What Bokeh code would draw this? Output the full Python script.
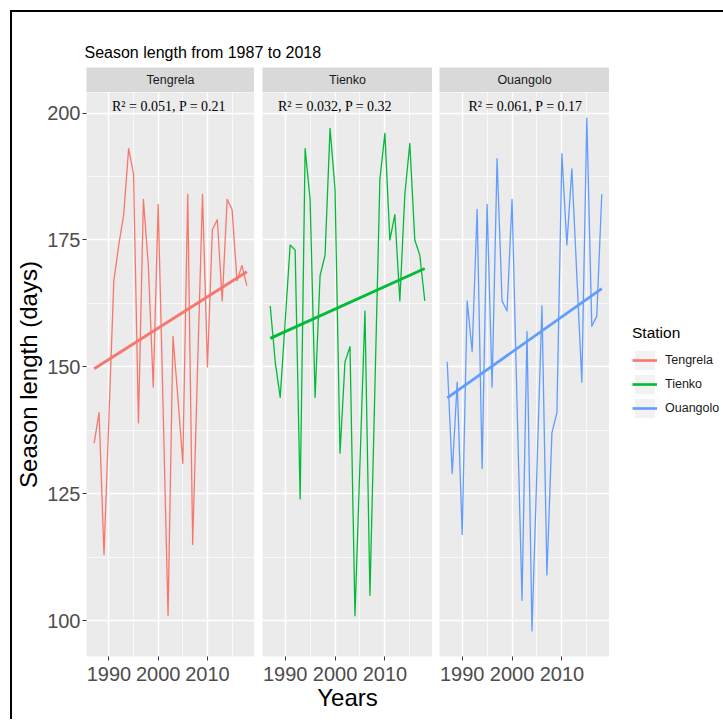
import numpy as np
from bokeh.plotting import figure
from bokeh.layouts import row, column
from bokeh.models import FixedTicker, Legend, LegendItem, Range1d, Label
from bokeh.core.properties import value
from bokeh.embed import file_html
from bokeh.resources import INLINE

# ---------------- data ----------------
years = list(range(1987, 2019))
tengrela = [135, 141, 113, 140, 167, 174, 180, 193, 188, 139, 183, 170, 146, 182, 142, 101,
            156, 144, 131, 184, 115, 150, 184, 150, 177, 179, 163, 183, 181, 167, 170, 166]
tienko = [162, 151, 144, 159, 174, 173, 124, 193, 183, 144, 168, 172, 197, 185, 133, 151,
          154, 101, 131, 161, 105, 146, 187, 196, 175, 180, 163, 184, 194, 175, 172, 163]
ouangolo = [151, 129, 147, 117, 163, 153, 181, 130, 182, 146, 191, 163, 161, 183, 143, 104,
            157, 98, 130, 162, 109, 137, 141, 192, 174, 189, 168, 147, 199, 158, 160, 184]
stations = ["Tengrela", "Tienko", "Ouangolo"]
colors = ["#F8766D", "#00BA38", "#619CFF"]
stat_labels = ["R\u00b2 = 0.051, P = 0.21", "R\u00b2 = 0.032, P = 0.32", "R\u00b2 = 0.061, P = 0.17"]
stat_label_x = [2002.2, 2000.0, 2002.7]
stat_label_y = 201.3
x_ticks = [1990, 2000, 2010]
x_minor = [1995, 2005, 2015]
y_ticks = [100, 125, 150, 175, 200]
y_minor = [112.5, 137.5, 162.5, 187.5]
title_text = "Season length from 1987 to 2018"
x_title = "Years"
y_title = "Season length (days)"
legend_title = "Station"

series = [tengrela, tienko, ouangolo]

# ---------------- ranges (ggplot-like 5% expansion) ----------------
xlo, xhi = min(years), max(years)
xpad = 0.05 * (xhi - xlo)
allv = tengrela + tienko + ouangolo
ylo, yhi = min(allv), max(allv)
ypad = 0.05 * (yhi - ylo)

# ---------------- layout geometry ----------------
ML = [72, 8, 7]
FRAME_W = 170
W = [ML[i] + FRAME_W for i in range(3)]
LEG_W = 114
TITLE_H = 55
STRIP_H = 25
MAIN_H = 627
MAIN_BOTTOM = 63
TOTAL_W = sum(W) + LEG_W

PANEL_BG = "#EBEBEB"
STRIP_BG = "#D9D9D9"
FONT = "Liberation Sans"
TICK_SIZE = "20px"
AXIS_TITLE_SIZE = "24px"


def bare(fig):
    fig.axis.visible = False
    fig.grid.visible = False
    fig.outline_line_color = None
    fig.border_fill_color = "white"


def style_axis(ax):
    ax.axis_line_color = None
    ax.major_tick_line_color = "#333333"
    ax.major_tick_line_width = 1
    ax.major_tick_out = 4
    ax.major_tick_in = 0
    ax.minor_tick_line_color = None
    ax.major_label_text_font = FONT
    ax.major_label_text_font_size = TICK_SIZE
    ax.major_label_text_color = "#4D4D4D"
    ax.axis_label_text_font = FONT
    ax.axis_label_text_font_size = AXIS_TITLE_SIZE
    ax.axis_label_text_font_style = "normal"
    ax.axis_label_text_color = "black"


# title strip across the whole plot
tfig = figure(width=TOTAL_W, height=TITLE_H, x_range=Range1d(0, 1), y_range=Range1d(0, 1),
              output_backend="svg", toolbar_location=None,
              min_border_left=ML[0], min_border_right=0, min_border_top=0, min_border_bottom=0)
bare(tfig)
tfig.background_fill_color = "white"
tfig.add_layout(Label(x=0, y=0.27, text=title_text, text_align="left", text_baseline="middle",
                      text_font=FONT, text_font_size="16px", text_color="black"))

cols = []
for i, (name, vals, col) in enumerate(zip(stations, series, colors)):
    # facet strip
    s = figure(width=W[i], height=STRIP_H, x_range=Range1d(0, 1), y_range=Range1d(0, 1),
               output_backend="svg", toolbar_location=None,
               min_border_left=ML[i], min_border_right=0, min_border_top=0, min_border_bottom=0)
    bare(s)
    s.background_fill_color = STRIP_BG
    s.add_layout(Label(x=0.5, y=0.5, text=name, text_align="center", text_baseline="middle",
                       text_font=FONT, text_font_size="12.5px", text_color="#1A1A1A"))

    # main panel
    p = figure(width=W[i], height=MAIN_H,
               x_range=Range1d(xlo - xpad, xhi + xpad), y_range=Range1d(ylo - ypad, yhi + ypad),
               output_backend="svg", toolbar_location=None,
               min_border_left=ML[i], min_border_right=0, min_border_top=0, min_border_bottom=MAIN_BOTTOM)
    p.background_fill_color = PANEL_BG
    p.border_fill_color = "white"
    p.outline_line_color = None

    xt = FixedTicker(ticks=x_ticks, minor_ticks=x_minor)
    yt = FixedTicker(ticks=y_ticks, minor_ticks=y_minor)
    p.xaxis.ticker = xt
    p.yaxis.ticker = yt
    p.xgrid.ticker = xt
    p.ygrid.ticker = yt
    for g in (p.xgrid, p.ygrid):
        g.grid_line_color = "white"
        g.grid_line_width = 1.4
        g.minor_grid_line_color = "white"
        g.minor_grid_line_width = 0.7

    style_axis(p.xaxis[0])
    style_axis(p.yaxis[0])
    p.xaxis.major_label_standoff = 6
    p.yaxis.major_label_standoff = 2
    if i == 0:
        p.yaxis.axis_label = y_title
        p.yaxis.axis_label_standoff = 2
    else:
        p.yaxis.visible = False
    if i == 1:
        p.xaxis.axis_label = x_title
        p.xaxis.axis_label_standoff = 0

    p.line(years, vals, line_color=col, line_width=1.3, line_join="round")
    coef = np.polyfit(years, vals, 1)
    ends = [years[0], years[-1]]
    p.line(ends, list(np.polyval(coef, ends)), line_color=col, line_width=2.8)
    p.text(x=[stat_label_x[i]], y=[stat_label_y], text=[stat_labels[i]], text_align="center",
           text_baseline="middle", text_font=value("Liberation Serif"), text_font_size="14px",
           text_color="black")
    cols.append(column(s, p))

# legend in its own figure at the right (key glyph renderers sit outside the visible range)
lf = figure(width=LEG_W, height=STRIP_H + MAIN_H, x_range=Range1d(0, 1), y_range=Range1d(0, 1),
            output_backend="svg", toolbar_location=None,
            min_border_left=0, min_border_right=0, min_border_top=0, min_border_bottom=0)
bare(lf)
lf.background_fill_color = "white"
items = []
for name, col in zip(stations, colors):
    bg = lf.quad(left=[-3], right=[-2], top=[-2], bottom=[-3], fill_color="#F2F2F2", line_color=None)
    ln = lf.line(x=[-3, -2], y=[-3, -3], line_color=col, line_width=2.6)
    items.append(LegendItem(label=name, renderers=[bg, ln]))
legend = Legend(items=items, title=legend_title, location=(23, 299),
                padding=0, margin=0, spacing=0, glyph_width=25, glyph_height=24,
                label_standoff=8, title_standoff=6,
                background_fill_alpha=0, border_line_color=None,
                label_text_font=FONT, label_text_font_size="12.5px", label_text_color="#1A1A1A",
                title_text_font=FONT, title_text_font_size="15.5px", title_text_color="black",
                title_text_font_style="normal")
lf.add_layout(legend)

layout = column(tfig, row(*cols, lf),
                styles={"border-top": "2px solid black", "border-left": "2px solid black"},
                margin=(10, 0, 0, 10))

open("out.html", "w").write(file_html(layout, INLINE))
